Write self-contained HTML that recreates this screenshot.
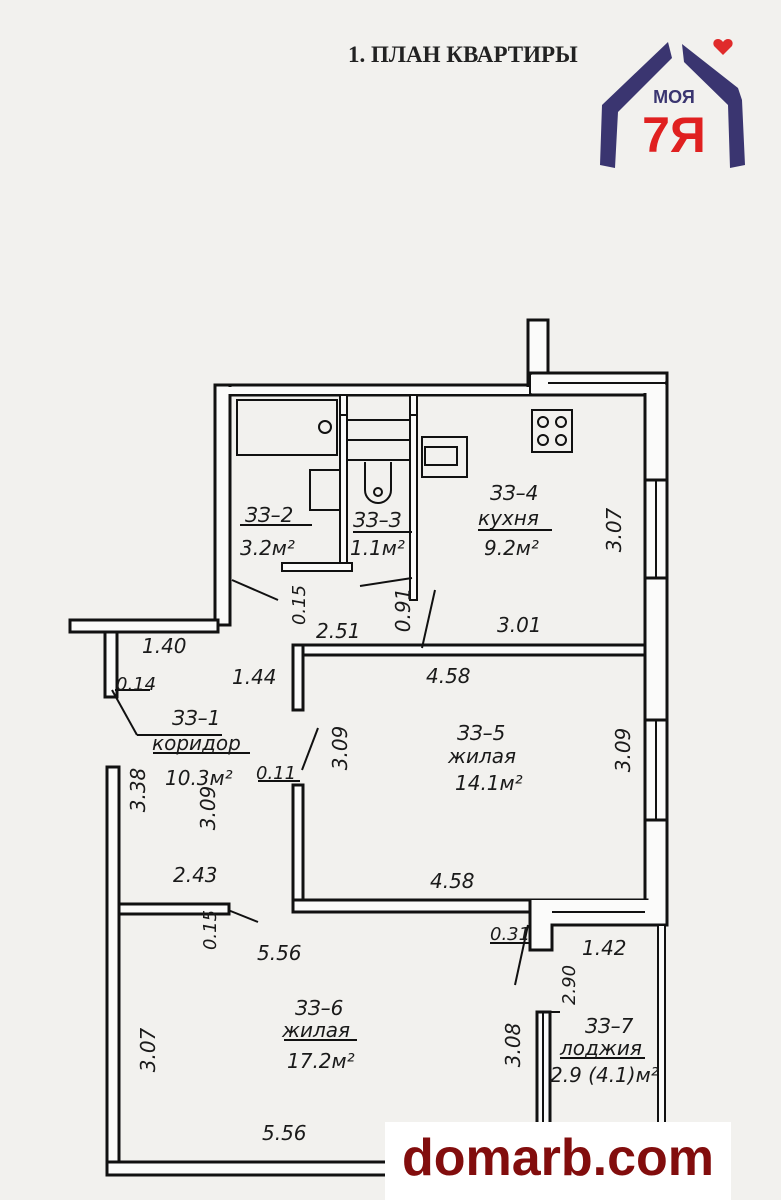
<!DOCTYPE html>
<html><head><meta charset="utf-8"><style>
html,body{margin:0;padding:0;background:#f2f1ee;}
svg{display:block}
.t{font-family:"DejaVu Sans","Liberation Sans",sans-serif;font-style:italic;font-size:20px;fill:#1a1a1a}
</style></head><body>
<svg width="781" height="1200" viewBox="0 0 781 1200" xmlns="http://www.w3.org/2000/svg">
<rect width="781" height="1200" fill="#f2f1ee"/>
<text x="348" y="62" font-family="Liberation Serif,serif" font-weight="bold" font-size="23" fill="#222">1. ПЛАН КВАРТИРЫ</text>
<g>
<path d="M668 42 L602 105 L600 165 L615 168 L618 112 L672 58 Z" fill="#3a3570"/>
<path d="M682 44 L738 88 L742 100 L745 165 L730 168 L728 105 L684 62 Z" fill="#3a3570"/>
<path d="M723 42 c-4-6-12-2-9 4 l9 9 l9-9 c3-6-5-10-9-4z" fill="#e02b2b"/>
<text x="674" y="103" font-family="Liberation Sans,sans-serif" font-weight="bold" font-size="18" fill="#3a3570" text-anchor="middle">МОЯ</text>
<text x="674" y="152" font-family="Liberation Sans,sans-serif" font-weight="bold" font-size="50" fill="#e02020" text-anchor="middle">7Я</text>
</g>
<g fill="#fbfbfa" stroke="#111" stroke-width="3">
<rect x="215" y="385" width="315" height="10"/>
<rect x="528" y="320" width="20" height="70"/>
<rect x="530" y="373" width="137" height="22"/>
<rect x="215" y="385" width="15" height="240"/>
<rect x="645" y="383" width="22" height="540"/>
<rect x="531" y="375" width="134" height="18" stroke="none"/>
<rect x="217" y="387" width="312" height="7" stroke="none"/>
<line x1="548" y1="383" x2="667" y2="383" stroke-width="2"/>
<rect x="645" y="480" width="22" height="98"/>
<line x1="656" y1="480" x2="656" y2="578" stroke-width="2"/>
<rect x="645" y="720" width="22" height="100"/>
<line x1="656" y1="720" x2="656" y2="820" stroke-width="2"/>
<rect x="70" y="620" width="148" height="12"/>
<rect x="105" y="632" width="12" height="65"/>
<rect x="107" y="767" width="12" height="408"/>
<rect x="107" y="1162" width="290" height="13"/>
<rect x="119" y="904" width="110" height="10"/>
<rect x="293" y="645" width="352" height="10"/>
<rect x="293" y="645" width="10" height="65"/>
<rect x="293" y="785" width="10" height="127"/>
<rect x="293" y="900" width="354" height="12"/>
<path d="M530 900 V950 H552 V925 H667 V900"/>
<rect x="532" y="902" width="111" height="9" stroke="none"/>
<rect x="532" y="910" width="133" height="13" stroke="none"/>
<rect x="532" y="920" width="18" height="28" stroke="none"/>
<line x1="552" y1="912" x2="645" y2="912" stroke-width="2"/>
<rect x="537" y="1012" width="13" height="188"/>
<line x1="543" y1="1012" x2="543" y2="1200" stroke-width="2"/>
<rect x="658" y="925" width="7" height="275" stroke-width="2"/>
<rect x="340" y="395" width="7" height="175" stroke-width="2"/>
<rect x="410" y="395" width="7" height="205" stroke-width="2"/>
<rect x="282" y="563" width="70" height="8" stroke-width="2"/>
</g>
<g fill="none" stroke="#111" stroke-width="2">
<line x1="347" y1="420" x2="410" y2="420"/>
<line x1="340" y1="415" x2="347" y2="415"/>
<line x1="410" y1="415" x2="417" y2="415"/>
<rect x="347" y="440" width="63" height="20"/>
<rect x="237" y="400" width="100" height="55"/>
<circle cx="325" cy="427" r="6"/>
<rect x="310" y="470" width="30" height="40"/>
<path d="M365 462 V490 a13 13 0 0 0 26 0 V462"/>
<circle cx="378" cy="492" r="4"/>
<rect x="422" y="437" width="45" height="40"/>
<rect x="425" y="447" width="32" height="18"/>
<rect x="532" y="410" width="40" height="42"/>
<circle cx="543" cy="422" r="5"/><circle cx="561" cy="422" r="5"/>
<circle cx="543" cy="440" r="5"/><circle cx="561" cy="440" r="5"/>
<line x1="232" y1="580" x2="278" y2="600"/>
<line x1="360" y1="586" x2="412" y2="578"/>
<line x1="435" y1="590" x2="422" y2="648"/>
<line x1="318" y1="728" x2="302" y2="770"/>
<line x1="112" y1="690" x2="137" y2="735"/>
<line x1="137" y1="735" x2="222" y2="735"/>
<line x1="228" y1="910" x2="258" y2="922"/>
<line x1="528" y1="925" x2="515" y2="985"/>
<line x1="537" y1="1012" x2="560" y2="1012"/>
<line x1="115" y1="690" x2="150" y2="690"/>
<line x1="258" y1="781" x2="300" y2="781"/>
<line x1="490" y1="943" x2="530" y2="943"/>
<line x1="240" y1="525" x2="312" y2="525"/>
<line x1="353" y1="532" x2="412" y2="532"/>
<line x1="478" y1="530" x2="552" y2="530"/>
<line x1="153" y1="753" x2="250" y2="753"/>
<line x1="284" y1="1040" x2="357" y2="1040"/>
<line x1="560" y1="1058" x2="645" y2="1058"/>
</g>
<g class="t">
<text x="245" y="522">ЗЗ–2</text>
<text x="240" y="555">3.2м²</text>
<text x="353" y="527">ЗЗ–З</text>
<text x="350" y="555">1.1м²</text>
<text x="490" y="500">ЗЗ–4</text>
<text x="478" y="525">кухня</text>
<text x="484" y="555">9.2м²</text>
<text x="621" y="530" transform="rotate(-90 621 530)" text-anchor="middle">3.07</text>
<text x="305" y="605" transform="rotate(-90 305 605)" text-anchor="middle" font-size="18">0.15</text>
<text x="410" y="610" transform="rotate(-90 410 610)" text-anchor="middle">0.91</text>
<text x="316" y="638">2.51</text>
<text x="497" y="632">3.01</text>
<text x="142" y="653">1.40</text>
<text x="232" y="684">1.44</text>
<text x="426" y="683">4.58</text>
<text x="116" y="690" font-size="18">0.14</text>
<text x="172" y="725">ЗЗ–1</text>
<text x="152" y="750">коридор</text>
<text x="165" y="785">10.3м²</text>
<text x="457" y="740">ЗЗ–5</text>
<text x="448" y="763">жилая</text>
<text x="455" y="790">14.1м²</text>
<text x="347" y="748" transform="rotate(-90 347 748)" text-anchor="middle">3.09</text>
<text x="630" y="750" transform="rotate(-90 630 750)" text-anchor="middle">3.09</text>
<text x="256" y="779" font-size="18">0.11</text>
<text x="145" y="790" transform="rotate(-90 145 790)" text-anchor="middle">3.38</text>
<text x="215" y="808" transform="rotate(-90 215 808)" text-anchor="middle">3.09</text>
<text x="173" y="882">2.43</text>
<text x="430" y="888">4.58</text>
<text x="216" y="930" transform="rotate(-90 216 930)" text-anchor="middle" font-size="18">0.15</text>
<text x="257" y="960">5.56</text>
<text x="490" y="940" font-size="18">0.31</text>
<text x="582" y="955">1.42</text>
<text x="575" y="985" transform="rotate(-90 575 985)" text-anchor="middle" font-size="18">2.90</text>
<text x="295" y="1015">ЗЗ–6</text>
<text x="282" y="1037">жилая</text>
<text x="287" y="1068">17.2м²</text>
<text x="520" y="1045" transform="rotate(-90 520 1045)" text-anchor="middle">3.08</text>
<text x="585" y="1033">ЗЗ–7</text>
<text x="560" y="1055">лоджия</text>
<text x="550" y="1082">2.9 (4.1)м²</text>
<text x="155" y="1050" transform="rotate(-90 155 1050)" text-anchor="middle">3.07</text>
<text x="262" y="1140">5.56</text>
</g>
<rect x="385" y="1122" width="346" height="78" fill="#ffffff"/>
<text x="558" y="1175" text-anchor="middle" font-family="Liberation Sans,sans-serif" font-weight="bold" font-size="52" fill="#820d0d">domarb.com</text>
</svg>
</body></html>
